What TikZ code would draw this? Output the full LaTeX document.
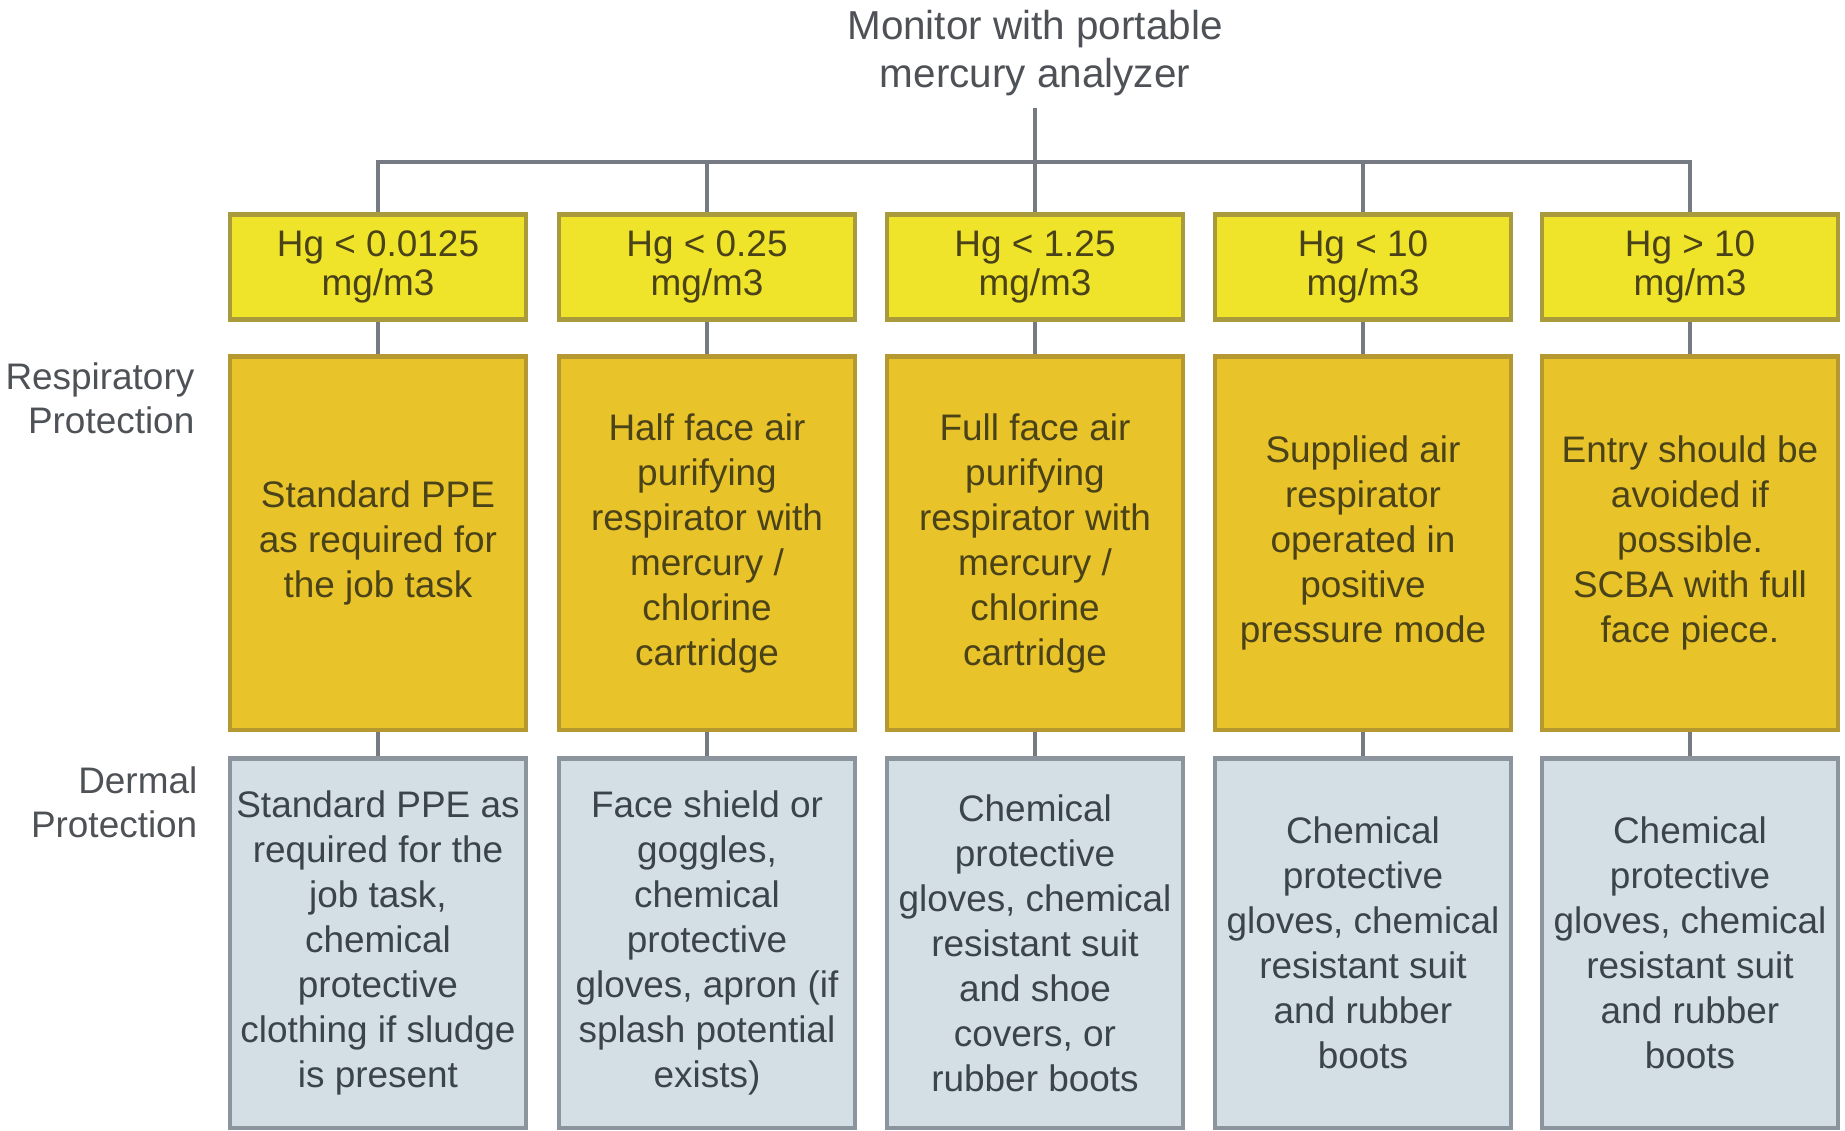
\documentclass[tikz,border=0pt]{standalone}
\usepackage{fontspec}
\setmainfont{Liberation Sans}
\definecolor{linegray}{HTML}{767B83}
\definecolor{rangefill}{HTML}{EFE42A}
\definecolor{rangeline}{HTML}{A99B3C}
\definecolor{respfill}{HTML}{E9C32A}
\definecolor{respline}{HTML}{B5982F}
\definecolor{dermfill}{HTML}{D4DFE5}
\definecolor{dermline}{HTML}{8C959E}
\definecolor{warmtext}{HTML}{4A4218}
\definecolor{coldtext}{HTML}{3B434B}
\definecolor{sidetext}{HTML}{4E5156}
\begin{document}
\begin{tikzpicture}[x=0.01cm,y=-0.01cm,
  link/.style={draw=linegray,line width=1.2pt},
  rangebox/.style={draw=rangeline,fill=rangefill,line width=1.2pt,minimum width=2.96cm,
    minimum height=1.05cm,inner sep=0pt,align=center,text=warmtext,
    font=\fontsize{10.5}{11.2}\selectfont},
  respbox/.style={rangebox,draw=respline,fill=respfill,minimum height=3.73cm,
    font=\fontsize{10.5}{12.8}\selectfont},
  dermbox/.style={rangebox,draw=dermline,fill=dermfill,minimum height=3.69cm,text=coldtext,
    font=\fontsize{10.5}{12.8}\selectfont},
  sidelabel/.style={anchor=east,align=right,inner sep=0pt,text=sidetext,
    font=\fontsize{10.5}{12.4}\selectfont}]
\useasboundingbox (0,0) rectangle (1845,1130);
% top of the tree
\node[align=center,text=sidetext,font=\fontsize{11.5}{13.4}\selectfont] (mon) at (1035,53)
  {Monitor with portable\\mercury analyzer};
\coordinate (bus) at (1035,162);
% concentration ranges
\node[rangebox] (r1) at (378,267) {Hg < 0.0125\\mg/m3};
\node[rangebox] (r2) at (707,267) {Hg < 0.25\\mg/m3};
\node[rangebox] (r3) at (1035,267) {Hg < 1.25\\mg/m3};
\node[rangebox] (r4) at (1363,267) {Hg < 10\\mg/m3};
\node[rangebox] (r5) at (1690,267) {Hg > 10\\mg/m3};
% respiratory protection
\node[sidelabel] (lresp) at (195,398) {Respiratory\\Protection};
\node[respbox] (p1) at (378,543) {Standard PPE\\as required for\\the job task};
\node[respbox] (p2) at (707,543) {Half face air\\purifying\\respirator with\\mercury /\\chlorine\\cartridge};
\node[respbox] (p3) at (1035,543) {Full face air\\purifying\\respirator with\\mercury /\\chlorine\\cartridge};
\node[respbox] (p4) at (1363,543) {Supplied air\\respirator\\operated in\\positive\\pressure mode};
\node[respbox] (p5) at (1690,543) {Entry should be\\avoided if\\possible.\\SCBA with full\\face piece.};
% dermal protection
\node[sidelabel] (lderm) at (198,802) {Dermal\\Protection};
\node[dermbox] (d1) at (378,943) {Standard PPE as\\required for the\\job task,\\chemical\\protective\\clothing if sludge\\is present};
\node[dermbox] (d2) at (707,943) {Face shield or\\goggles,\\chemical\\protective\\gloves, apron (if\\splash potential\\exists)};
\node[dermbox] (d3) at (1035,943) {Chemical\\protective\\gloves, chemical\\resistant suit\\and shoe\\covers, or\\rubber boots};
\node[dermbox] (d4) at (1363,943) {Chemical\\protective\\gloves, chemical\\resistant suit\\and rubber\\boots};
\node[dermbox] (d5) at (1690,943) {Chemical\\protective\\gloves, chemical\\resistant suit\\and rubber\\boots};
% connectors
\draw[link] (mon) -- (bus);
\draw[link] (r1.north) |- (bus) -| (r5.north);
\draw[link] (r2.north) -- (r2.north |- bus);
\draw[link] (r3.north) -- (bus);
\draw[link] (r4.north) -- (r4.north |- bus);
\foreach \i in {1,...,5} {
  \draw[link] (r\i) -- (p\i);
  \draw[link] (p\i) -- (d\i);
}
\end{tikzpicture}
\end{document}
